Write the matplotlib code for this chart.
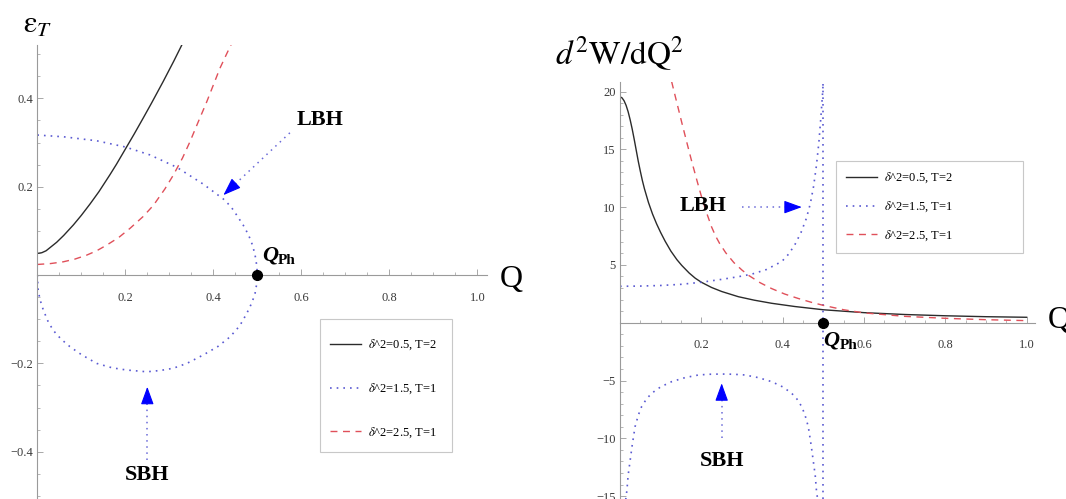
import numpy as np
import matplotlib
matplotlib.use("Agg")
import matplotlib.pyplot as plt
from matplotlib.lines import Line2D
from matplotlib.patches import Rectangle

plt.rcParams['font.family'] = ['Liberation Serif', 'DejaVu Serif']
plt.rcParams['mathtext.fontset'] = 'stix'

# ---- left panel: epsilon_T vs Q ----
eps_black_q = [0, 0.01, 0.02, 0.044, 0.06, 0.082, 0.1, 0.12, 0.14, 0.165, 0.18, 0.2, 0.22, 0.241, 0.26, 0.286, 0.31, 0.328]
eps_black_v = [0.049, 0.0505, 0.055, 0.0742, 0.0897, 0.1135, 0.1351, 0.1611, 0.1887, 0.227, 0.251, 0.285, 0.319, 0.356, 0.39, 0.438, 0.484, 0.52]

eps_red_q = [0, 0.03, 0.059, 0.085, 0.112, 0.135, 0.158, 0.185, 0.211, 0.24, 0.264, 0.29, 0.309, 0.33, 0.347, 0.365, 0.385, 0.4, 0.415, 0.43, 0.442]
eps_red_v = [0.024, 0.026, 0.030, 0.036, 0.045, 0.055, 0.068, 0.085, 0.106, 0.132, 0.158, 0.195, 0.226, 0.265, 0.302, 0.345, 0.392, 0.43, 0.468, 0.5, 0.525]

eps_blue_up_q = [0, 0.06, 0.135, 0.2, 0.256, 0.317, 0.377, 0.423, 0.44, 0.453, 0.468, 0.48, 0.489, 0.495, 0.499, 0.5]
eps_blue_up_v = [0.317, 0.313, 0.304, 0.29, 0.272, 0.244, 0.206, 0.172, 0.155, 0.136, 0.113, 0.091, 0.068, 0.045, 0.02, 0.0]

eps_blue_lo_q = [0, 0.002, 0.006, 0.0136, 0.024, 0.036, 0.054, 0.074, 0.1, 0.135, 0.17, 0.203, 0.249, 0.28, 0.309, 0.34, 0.377, 0.41, 0.438, 0.46, 0.476, 0.488, 0.495, 0.499, 0.5]
eps_blue_lo_v = [0, -0.034, -0.055, -0.079, -0.104, -0.125, -0.145, -0.162, -0.18, -0.2, -0.21, -0.215, -0.219, -0.216, -0.211, -0.2, -0.181, -0.162, -0.14, -0.115, -0.087, -0.062, -0.041, -0.018, 0.0]

# ---- right panel: d^2W/dQ^2 vs Q ----
w_black_q = [0, 0.005, 0.01, 0.015, 0.02, 0.025, 0.03, 0.035, 0.04, 0.045, 0.05, 0.055, 0.06, 0.07, 0.08, 0.09, 0.1,
             0.111, 0.125, 0.14, 0.152, 0.17, 0.185, 0.2, 0.225, 0.25, 0.291, 0.33, 0.373, 0.43, 0.5, 0.6, 0.7, 0.8, 0.9, 1.0]
w_black_v = [19.55, 19.45, 19.2, 18.8, 18.25, 17.55, 16.75, 15.85, 14.9, 13.95, 13.1, 12.3, 11.6, 10.4, 9.4, 8.55, 7.8,
             7.05, 6.2, 5.45, 4.95, 4.3, 3.85, 3.5, 3.05, 2.7, 2.25, 1.95, 1.68, 1.4, 1.12, 0.87, 0.71, 0.6, 0.52, 0.47]

w_red_q = [0.127, 0.14, 0.152, 0.165, 0.176, 0.19, 0.2, 0.212, 0.225, 0.235, 0.245, 0.26, 0.28, 0.3, 0.316, 0.345, 0.373,
           0.405, 0.438, 0.47, 0.5, 0.55, 0.6, 0.7, 0.8, 0.9, 1.0]
w_red_v = [20.85, 19.0, 17.3, 15.5, 14.0, 12.2, 10.95, 9.6, 8.3, 7.5, 6.85, 6.05, 5.2, 4.55, 4.1, 3.45, 2.95,
           2.48, 2.1, 1.77, 1.5, 1.12, 0.85, 0.55, 0.38, 0.26, 0.18]

w_blue_up_q = [0, 0.05, 0.1, 0.15, 0.2, 0.25, 0.291, 0.324, 0.36, 0.398, 0.415, 0.43, 0.445, 0.458, 0.468, 0.476, 0.483, 0.489, 0.494, 0.498, 0.5]
w_blue_up_v = [3.15, 3.17, 3.22, 3.32, 3.5, 3.75, 3.98, 4.2, 4.6, 5.3, 5.95, 6.75, 7.8, 9.0, 10.3, 11.8, 13.6, 15.6, 17.8, 19.8, 21.0]

w_blue_lo_q = [0.014, 0.017, 0.02, 0.025, 0.03, 0.037, 0.045, 0.053, 0.065, 0.078, 0.1, 0.127, 0.16, 0.193, 0.22, 0.25, 0.28, 0.307, 0.34, 0.373, 0.4, 0.422, 0.435, 0.447, 0.455, 0.463, 0.47, 0.475, 0.48, 0.483, 0.486]
w_blue_lo_v = [-15.3, -14.5, -13.2, -11.9, -10.6, -9.0, -8.0, -7.27, -6.6, -6.1, -5.55, -5.1, -4.75, -4.52, -4.46, -4.44, -4.46, -4.52, -4.75, -5.1, -5.55, -6.1, -6.6, -7.27, -8.0, -9.0, -10.6, -11.9, -13.2, -14.5, -15.3]

q_ph = 0.5
labels = [r'$\delta$^2=0.5, T=2', r'$\delta$^2=1.5, T=1', r'$\delta$^2=2.5, T=1']
x_ticks = [0.2, 0.4, 0.6, 0.8, 1.0]
left_yticks = [-0.4, -0.2, 0.2, 0.4]
right_yticks = [-15, -10, -5, 5, 10, 15, 20]

c_black = '#2b2b2b'
c_blue = '#5a5ad2'
c_red = '#e0505a'
c_arrow = '#0000ff'
c_shaft = '#6a6ad8'
c_axis = '#9a9a9a'
dot = (0, (1, 3))
dash = (0, (5, 4))

W, H = 1066, 499
fig = plt.figure(figsize=(W / 100, H / 100), dpi=100)

ax1 = fig.add_axes([37.3 / W, 0, 1.021 * 440 / W, 1.027 * 441.7 / H])
ax2 = fig.add_axes([620 / W, 0, 1.02 * 406.7 / W, 36.05 * 11.56 / H])


def style_axes(ax, yticks, ymin_loc, fmt):
    for s in ['top', 'right']:
        ax.spines[s].set_visible(False)
    ax.spines['bottom'].set_position(('data', 0))
    ax.spines['left'].set_position(('data', 0))
    for s in ['bottom', 'left']:
        ax.spines[s].set_color(c_axis)
        ax.spines[s].set_linewidth(0.8)
    ax.set_xticks(x_ticks)
    ax.set_xticklabels(['%.1f' % t for t in x_ticks])
    ax.set_yticks(yticks)
    ax.set_yticklabels([fmt(t) for t in yticks])
    ax.xaxis.set_minor_locator(plt.MultipleLocator(0.05))
    ax.yaxis.set_minor_locator(plt.MultipleLocator(ymin_loc))
    ax.tick_params(which='major', direction='in', length=4, width=0.6,
                   color=c_axis, labelsize=9, labelcolor='#3a3a3a')
    ax.tick_params(which='minor', direction='in', length=2, width=0.5, color=c_axis)
    ax.tick_params(axis='x', pad=12)
    ax.tick_params(axis='y', pad=3)
    ax.patch.set_alpha(0)


# left panel
ax1.plot(eps_black_q, eps_black_v, color=c_black, lw=1.0, solid_joinstyle='round')
ax1.plot(eps_blue_up_q, eps_blue_up_v, color=c_blue, lw=1.2, ls=dot)
ax1.plot(eps_blue_lo_q, eps_blue_lo_v, color=c_blue, lw=1.2, ls=dot)
ax1.plot(eps_red_q, eps_red_v, color=c_red, lw=1.0, ls=dash)
ax1.set_xlim(0, 1.021)
ax1.set_ylim(-0.507, 0.52)
style_axes(ax1, left_yticks, 0.05, lambda t: ('%.1f' % t).replace('-', '\u2212'))
ax1.plot([q_ph], [0], 'o', color='black', ms=7, clip_on=False, zorder=5)

# right panel
ax2.plot(w_black_q, w_black_v, color=c_black, lw=1.0, solid_joinstyle='round')
ax2.plot(w_blue_up_q, w_blue_up_v, color=c_blue, lw=1.2, ls=dot)
ax2.plot(w_blue_lo_q, w_blue_lo_v, color=c_blue, lw=1.2, ls=dot)
ax2.plot([q_ph, q_ph], [-15.25, 20.8], color=c_blue, lw=1.2, ls=dot)
ax2.plot(w_red_q, w_red_v, color=c_red, lw=1.0, ls=dash)
ax2.set_xlim(0, 1.02)
ax2.set_ylim(-15.25, 20.8)
style_axes(ax2, right_yticks, 1, lambda t: str(t).replace('-', '\u2212'))
ax2.plot([q_ph], [0], 'o', color='black', ms=7, clip_on=False, zorder=5)

# axis titles
fig.text(23 / W, 1 - 33 / H, r'$\mathrm{\varepsilon}_T$', fontsize=22, va='baseline')
fig.text(555 / W, 1 - 65 / H, r'$d^2\mathrm{W/dQ}^2$', fontsize=24, va='baseline')
ax1.text(1.052, -0.0265, 'Q', fontsize=23, va='baseline', clip_on=False)
ax2.text(1.052, -0.46, 'Q', fontsize=23, va='baseline', clip_on=False)


def qph_label(ax, x, y):
    ax.text(x, y, 'Q', fontsize=16, fontweight='bold', fontstyle='italic', va='baseline')
    ax.annotate('Ph', xy=(x, y), xytext=(11.5, -3), textcoords='offset points',
                fontsize=11, fontweight='bold', va='baseline')


qph_label(ax1, 0.511, 0.034)
qph_label(ax2, 0.5, -1.93)


def arrow(ax, tail, tip, text, text_xy):
    ax.plot([tail[0], tip[0]], [tail[1], tip[1]], color=c_shaft, lw=1.1, ls=dot)
    back = (tip[0] - 0.15 * (tip[0] - tail[0]), tip[1] - 0.15 * (tip[1] - tail[1]))
    ax.annotate('', xy=tip, xytext=back,
                arrowprops=dict(arrowstyle='-|>,head_length=1.1,head_width=0.4',
                                mutation_scale=10, color=c_arrow, lw=0.8,
                                shrinkA=0, shrinkB=0))
    ax.text(text_xy[0], text_xy[1], text, fontsize=16, fontweight='bold',
            ha='center', va='center')


arrow(ax1, (0.574, 0.322), (0.423, 0.181), 'LBH', (0.642, 0.351))
arrow(ax1, (0.25, -0.419), (0.25, -0.253), 'SBH', (0.25, -0.452))
arrow(ax2, (0.299, 10.0), (0.447, 10.0), 'LBH', (0.203, 10.1))
arrow(ax2, (0.25, -10.0), (0.25, -5.24), 'SBH', (0.25, -12.0))

# legends
handles = [Line2D([], [], color=c_black, lw=1.0),
           Line2D([], [], color=c_blue, lw=1.2, ls=dot),
           Line2D([], [], color=c_red, lw=1.0, ls=dash)]


def legend_box(x0, y0, x1, y1, top_off, spacing):
    fig.patches.append(Rectangle((x0 / W, 1 - y1 / H), (x1 - x0) / W, (y1 - y0) / H,
                                 transform=fig.transFigure, fill=True, fc='white',
                                 ec='#c8c8c8', lw=0.8, zorder=3))
    leg = fig.legend(handles, labels, loc='upper left',
                     bbox_to_anchor=((x0 - 4) / W, 1 - (y0 + top_off) / H),
                     frameon=False, fontsize=9, handlelength=2.5,
                     handletextpad=0.55, labelspacing=spacing, borderpad=0.6)
    leg.set_zorder(4)


legend_box(320, 319, 452, 452, 5, 2.35)
legend_box(836, 161, 1023, 253, -4, 1.15)

fig.savefig('out.png', dpi=100)
